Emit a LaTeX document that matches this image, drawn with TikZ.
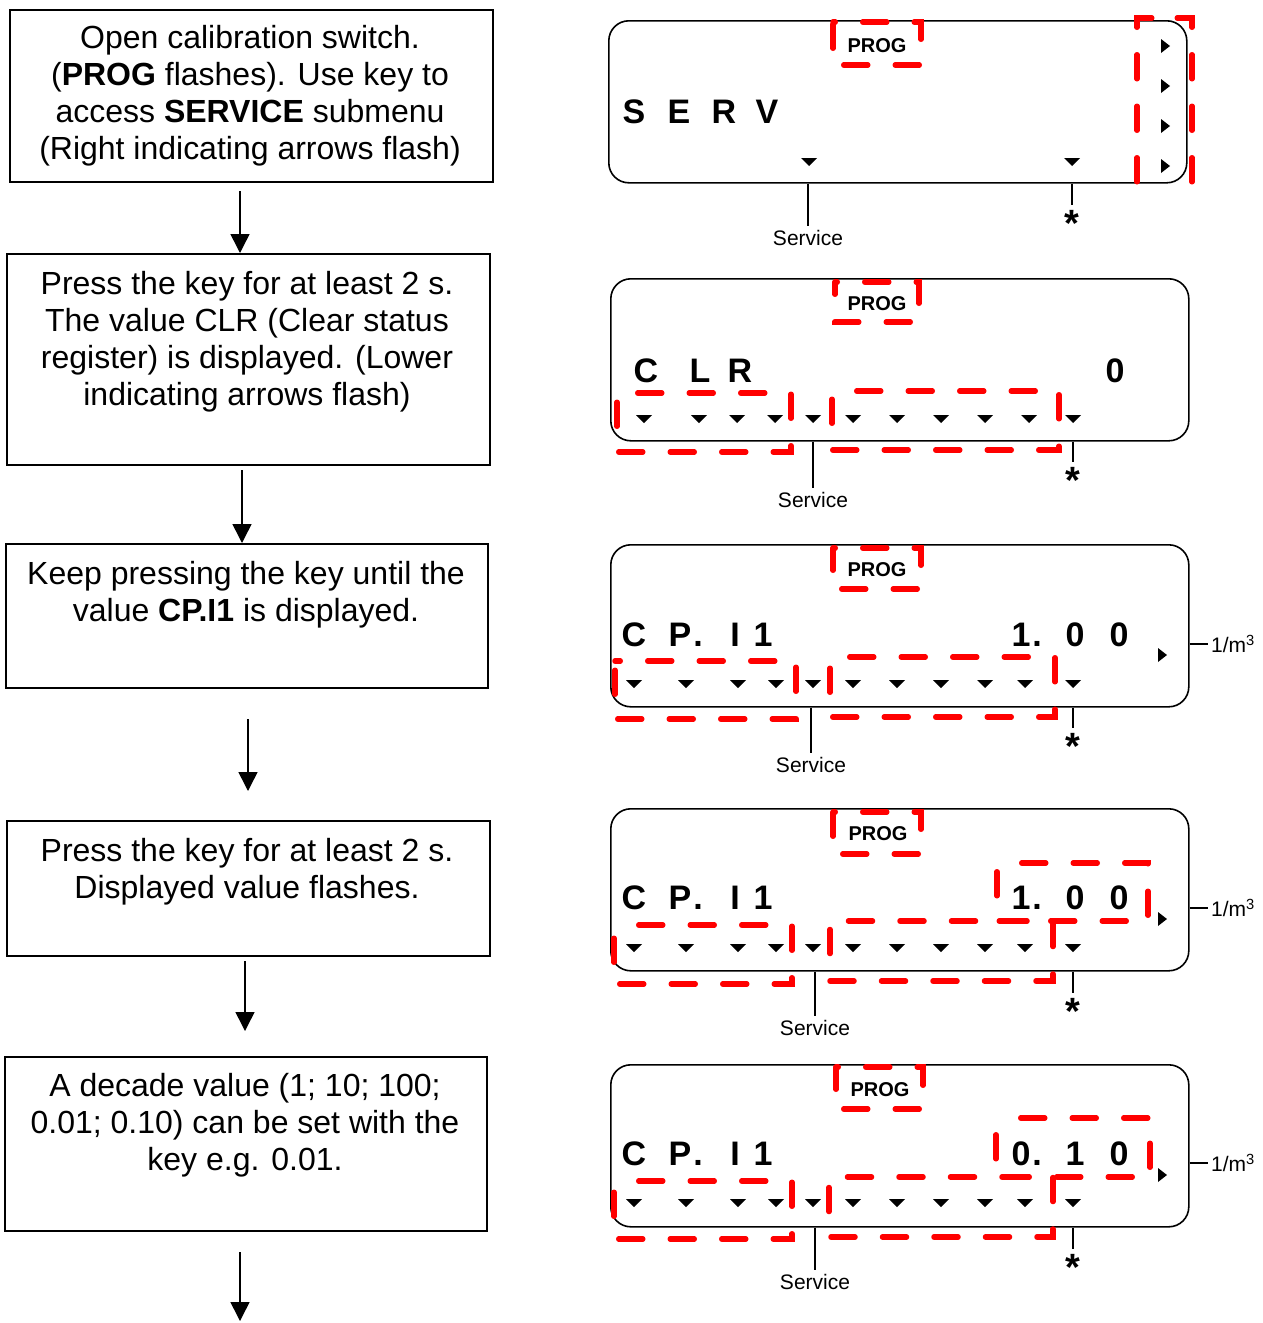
\documentclass[tikz,border=0pt]{standalone}
\usepackage{fontspec}
\setmainfont{Liberation Sans}
\usetikzlibrary{arrows.meta}

% small LCD indicator triangles (centre x, centre y)
\newcommand\tdn[2]{\fill (#1-8,#2-4) -- (#1+8,#2-4) -- (#1,#2+4) -- cycle;}
\newcommand\trt[2]{\fill (#1-4,#2-7) -- (#1+5,#2) -- (#1-4,#2+7) -- cycle;}
% flashing marker: dashed frame traced clockwise from its top-left corner
% {x1}{y1}{x2}{y2}{dash phase}
\newcommand\blinkbox[5]{\draw[blink, dash phase=#5] (#1,#2) -- (#3,#2) -- (#3,#4) -- (#1,#4) -- cycle;}

\begin{document}
\begin{tikzpicture}[x=1pt,y=-1pt,
  stepbox/.style={draw, line width=1.6pt, rectangle, inner sep=0pt, anchor=north west},
  steptext/.style={anchor=north, align=center, inner sep=0pt, font=\fontsize{32}{37}\selectfont},
  flow/.style={line width=1.5pt, -{Triangle[length=19pt,width=19pt]}},
  lcd/.style={draw, line width=1.6pt, rounded corners=20pt, rectangle, minimum width=578pt,
              minimum height=162pt, anchor=north west, inner sep=0pt},
  seg/.style={font=\fontsize{34}{34}\selectfont\bfseries, inner sep=0pt, anchor=base},
  prog/.style={font=\fontsize{20}{20}\selectfont\bfseries, inner sep=0pt, anchor=base},
  svc/.style={font=\fontsize{21}{21}\selectfont, inner sep=4pt, anchor=north},
  star/.style={font=\fontsize{38}{38}\selectfont\bfseries, inner sep=5pt, anchor=north},
  unit/.style={font=\fontsize{21}{21}\selectfont, inner sep=3pt, anchor=west},
  blink/.style={draw=red, line width=5.5pt, line cap=round, dash pattern=on 24pt off 27.5pt},
  lead/.style={line width=1.2pt}
]
\useasboundingbox (0,0) rectangle (1263,1323);

% ---------------- procedure steps ----------------
\node[stepbox, minimum width=483pt, minimum height=172pt] (b1) at (9,9) {};
\node[steptext] (t1) at (250,25) {Open calibration switch.\\(\textbf{PROG} flashes). Use key to\\access \textbf{SERVICE} submenu\\(Right indicating arrows flash)};

\node[stepbox, minimum width=483pt, minimum height=211pt] (b2) at (6,253) {};
\node[steptext] (t2) at (247,271) {Press the key for at least 2 s.\\The value CLR (Clear status\\register) is displayed. (Lower\\indicating arrows flash)};

\node[stepbox, minimum width=482pt, minimum height=144pt] (b3) at (5,543) {};
\node[steptext] (t3) at (246,561) {Keep pressing the key until the\\value \textbf{CP.I1} is displayed.};

\node[stepbox, minimum width=483pt, minimum height=135pt] (b4) at (6,820) {};
\node[steptext] (t4) at (247,838) {Press the key for at least 2 s.\\Displayed value flashes.};

\node[stepbox, minimum width=482pt, minimum height=174pt] (b5) at (4,1056) {};
\node[steptext] (t5) at (245,1073) {A decade value (1; 10; 100;\\0.01; 0.10) can be set with the\\key e.g. 0.01.};

\coordinate (a1s) at (240,191);
\coordinate (a2s) at (242,470);
\coordinate (a3s) at (248,719);
\coordinate (a3e) at (248,791);
\coordinate (a4s) at (245,961);
\coordinate (a4e) at (245,1031);
\coordinate (a5s) at (240,1252);
\coordinate (a5e) at (240,1321);
\draw[flow] (a1s) -- (a1s |- b2.north);
\draw[flow] (a2s) -- (a2s |- b3.north);
\draw[flow] (a3s) -- (a3e);
\draw[flow] (a4s) -- (a4e);
\draw[flow] (a5s) -- (a5e);

% ---------------- display 1: SERV ----------------
\begin{scope}[shift={(608,20)}]
  \node[lcd] (d1) at (0,0) {};
  \node[prog] (p1) at (269,32) {PROG};
  \blinkbox{225}{2}{313}{45}{21.75}
  \node[seg] (d1c1) at (26,103) {S};
  \node[seg] (d1c2) at (71,103) {E};
  \node[seg] (d1c3) at (116,103) {R};
  \node[seg] (d1c4) at (159,103) {V};
  \tdn{201}{142} \tdn{464}{142}
  \trt{557}{26} \trt{557}{66} \trt{557}{106} \trt{557}{146}
  % right arrow column marker, traced from the middle of its top edge both ways
  \draw[blink, dash phase=38.75] (556.5,-2) -- (584,-2) -- (584,163);
  \draw[blink, dash phase=38.75] (556.5,-2) -- (529,-2) -- (529,163) -- (545,163);
  \node[svc] (s1) at (200,206) {Service};
  \draw[lead] (s1.north |- d1.south) -- (s1.north);
  \node[star] (k1) at (464,185) {*};
  \draw[lead] (k1.north |- d1.south) -- (k1.north);
\end{scope}

% ---------------- display 2: CLR ----------------
\begin{scope}[shift={(610,278)}]
  \node[lcd] (d2) at (0,0) {};
  \node[prog] (p2) at (267,32) {PROG};
  \blinkbox{225}{4}{309}{44}{21.75}
  \node[seg] (d2c1) at (36,104) {C};
  \node[seg] (d2c2) at (90,104) {L};
  \node[seg] (d2c3) at (130,104) {R};
  \node[seg] (d2v1) at (505,104) {0};
  \foreach \tx in {34,89,127,165,203,243,287,331,375,419,463} {\tdn{\tx}{141}}
  \blinkbox{7}{115}{181}{174}{30.75}
  \blinkbox{222}{113}{449}{172}{26.75}
  \node[svc] (s2) at (203,210) {Service};
  \draw[lead] (s2.north |- d2.south) -- (s2.north);
  \node[star] (k2) at (463,184) {*};
  \draw[lead] (k2.north |- d2.south) -- (k2.north);
\end{scope}

% ---------------- display 3: CP.I1 = 1.00 ----------------
\begin{scope}[shift={(610,544)}]
  \node[lcd] (d3) at (0,0) {};
  \node[prog] (p3) at (267,32) {PROG};
  \blinkbox{223}{4}{311}{45}{21.75}
  \node[seg] (d3c1) at (24,102) {C};
  \node[seg] (d3c2) at (70,102) {P};
  \node[seg] (d3c3) at (88,102) {.};
  \node[seg] (d3c4) at (125,102) {I};
  \node[seg] (d3c5) at (153,102) {1};
  \node[seg] (d3v1) at (411,102) {1};
  \node[seg] (d3v2) at (427,102) {.};
  \node[seg] (d3v3) at (465,102) {0};
  \node[seg] (d3v4) at (509,102) {0};
  \trt{552}{111}
  \foreach \tx in {24,76,128,166,203,243,287,331,375,415,463} {\tdn{\tx}{140}}
  \blinkbox{5}{117}{186}{175}{18.75}
  \blinkbox{220}{113}{445}{173}{31.75}
  \node[unit] (u3) at (598,100) {1/m\textsuperscript{3}};
  \draw[lead] (d3.east |- u3.west) -- (u3.west);
  \node[svc] (s3) at (201,209) {Service};
  \draw[lead] (s3.north |- d3.south) -- (s3.north);
  \node[star] (k3) at (463,184) {*};
  \draw[lead] (k3.north |- d3.south) -- (k3.north);
\end{scope}

% ---------------- display 4: value flashing ----------------
\begin{scope}[shift={(610,808)}]
  \node[lcd] (d4) at (0,0) {};
  \node[prog] (p4) at (268,32) {PROG};
  \blinkbox{223}{4}{311}{46}{21.75}
  \node[seg] (d4c1) at (24,101) {C};
  \node[seg] (d4c2) at (70,101) {P};
  \node[seg] (d4c3) at (88,101) {.};
  \node[seg] (d4c4) at (125,101) {I};
  \node[seg] (d4c5) at (153,101) {1};
  \node[seg] (d4v1) at (411,101) {1};
  \node[seg] (d4v2) at (427,101) {.};
  \node[seg] (d4v3) at (465,101) {0};
  \node[seg] (d4v4) at (509,101) {0};
  \trt{552}{111}
  \foreach \tx in {24,76,128,166,203,243,287,331,375,415,463} {\tdn{\tx}{140}}
  \blinkbox{4}{117}{182}{176}{26.75}
  \blinkbox{220}{113}{443}{173}{33}
  \blinkbox{387}{55}{538}{113}{26.75}
  \node[unit] (u4) at (598,100) {1/m\textsuperscript{3}};
  \draw[lead] (d4.east |- u4.west) -- (u4.west);
  \node[svc] (s4) at (205,208) {Service};
  \draw[lead] (s4.north |- d4.south) -- (s4.north);
  \node[star] (k4) at (463,185) {*};
  \draw[lead] (k4.north |- d4.south) -- (k4.north);
\end{scope}

% ---------------- display 5: decade value 0.10 ----------------
\begin{scope}[shift={(610,1064)}]
  \node[lcd] (d5) at (0,0) {};
  \node[prog] (p5) at (270,32) {PROG};
  \blinkbox{226}{3}{313}{45}{21.75}
  \node[seg] (d5c1) at (24,101) {C};
  \node[seg] (d5c2) at (70,101) {P};
  \node[seg] (d5c3) at (88,101) {.};
  \node[seg] (d5c4) at (125,101) {I};
  \node[seg] (d5c5) at (153,101) {1};
  \node[seg] (d5v1) at (411,101) {0};
  \node[seg] (d5v2) at (427,101) {.};
  \node[seg] (d5v3) at (465,101) {1};
  \node[seg] (d5v4) at (509,101) {0};
  \trt{552}{111}
  \foreach \tx in {24,76,128,166,203,243,287,331,375,415,463} {\tdn{\tx}{139}}
  \blinkbox{4}{117}{182}{175}{26.75}
  \blinkbox{219}{113}{443}{173}{33}
  \blinkbox{386}{54}{540}{113}{26.75}
  \node[unit] (u5) at (598,99) {1/m\textsuperscript{3}};
  \draw[lead] (d5.east |- u5.west) -- (u5.west);
  \node[svc] (s5) at (205,206) {Service};
  \draw[lead] (s5.north |- d5.south) -- (s5.north);
  \node[star] (k5) at (463,185) {*};
  \draw[lead] (k5.north |- d5.south) -- (k5.north);
\end{scope}
\end{tikzpicture}
\end{document}
